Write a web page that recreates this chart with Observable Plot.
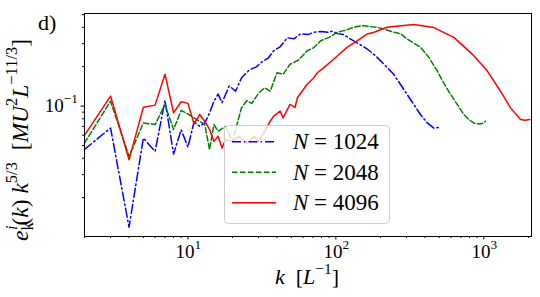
<!DOCTYPE html>
<html><head><meta charset="utf-8">
<script src="https://cdn.jsdelivr.net/npm/d3@7"></script>
<script src="https://cdn.jsdelivr.net/npm/@observablehq/plot@0.6"></script>
<style>body{margin:0;background:#fff} #chart{width:540px;height:297px}</style>
</head><body><div id="chart"></div><script>
// ---- data ----
const blueK = [2,3,4,5,6,7,8,9,10,11,12,13,14,15,16,17,19,21,23,26,29,31,35,38,42,47,52,58,65,71,80,88,95,102,113,125,143,163,185,211,246,273,303,336,373,415,459,505,511];
const blueV = [0.0467,0.0681,0.0119,0.057,0.0451,0.1106,0.043,0.0662,0.0487,0.0757,0.0702,0.0744,0.0888,0.109,0.1236,0.106,0.1426,0.1303,0.164,0.189,0.1995,0.214,0.234,0.265,0.284,0.333,0.327,0.358,0.352,0.367,0.371,0.366,0.374,0.358,0.352,0.326,0.299,0.273,0.243,0.209,0.175,0.147,0.123,0.103,0.0863,0.0744,0.068,0.069,0.070];

const greenK = [2,3,4,5,6,7,8,9,10,11,12,13,14,15,16,18,20,23,25,27,30,33,36,40,44,49,56,64,71,79,90,102,116,132,150,171,190,211,240,274,303,374,425,484,534,596,661,733,792,855,930,1000,1023];
const greenV = [0.0522,0.109,0.0413,0.0744,0.0723,0.103,0.0662,0.0927,0.0873,0.0813,0.0767,0.0723,0.0465,0.0723,0.0643,0.0702,0.0538,0.097,0.110,0.105,0.125,0.138,0.130,0.180,0.175,0.209,0.225,0.265,0.280,0.316,0.335,0.367,0.380,0.400,0.412,0.405,0.400,0.389,0.370,0.357,0.326,0.281,0.236,0.186,0.151,0.123,0.103,0.0863,0.079,0.0744,0.073,0.0744,0.0767];

const redK = [2,3,4,5,6,7,8,9,10,11,12,13,14,15,16,17,18,20,22,25,28,30,33,36,38,42,44,49,53,55,64,71,75,83,97,119,140,163,181,222,247,336,459,627,855,1054,1297,1515,1770,1900,2048];
const redV = [0.0598,0.1194,0.0389,0.0982,0.1018,0.1754,0.0888,0.108,0.105,0.0731,0.0863,0.0767,0.0665,0.0538,0.0588,0.0478,0.0557,0.0538,0.0588,0.052,0.0588,0.0538,0.0642,0.0767,0.0838,0.0916,0.0813,0.103,0.098,0.116,0.147,0.165,0.180,0.197,0.229,0.281,0.316,0.356,0.367,0.400,0.405,0.420,0.398,0.335,0.243,0.186,0.130,0.097,0.079,0.078,0.079];

const seriesNames = ["1024","2048","4096"];
const xMajor = [10,100,1000];
const xMinor = [2,3,4,5,6,7,8,9,20,30,40,50,60,70,80,90,200,300,400,500,600,700,800,900,2000];
const yMajor = [0.1];
const yMinor = [0.02,0.03,0.04,0.05,0.06,0.07,0.08,0.09,0.2,0.3,0.4,0.5];
const xTickExp = ["1","2","3"];
const yTickExp = ["\u22121"];

const FONT = "'Liberation Serif', 'DejaVu Serif', serif";
const toRows = (K,V) => K.map((k,i)=>({k, v:V[i]}));
const blue = toRows(blueK, blueV), green = toRows(greenK, greenV), red = toRows(redK, redV);

const styles = [
  {color:"blue", dash:"9,3,1.5,3"},
  {color:"green", dash:"5.5,2.5"},
  {color:"red", dash:null}
];

const plot = Plot.plot({
  width:540, height:297,
  marginLeft:84, marginRight:9, marginTop:13, marginBottom:61,
  style:{background:"white", fontFamily:FONT, overflow:"visible"},
  x:{type:"log", domain:[2,2100]},
  y:{type:"log", domain:[0.0101,0.51]},
  marks:[
    Plot.line(blue, {x:"k", y:"v", stroke:styles[0].color, strokeWidth:1.5, strokeDasharray:styles[0].dash}),
    Plot.line(green, {x:"k", y:"v", stroke:styles[1].color, strokeWidth:1.5, strokeDasharray:styles[1].dash}),
    Plot.line(red, {x:"k", y:"v", stroke:styles[2].color, strokeWidth:1.5}),
    Plot.axisX({ticks:xMajor, tickSize:3.5, tickFormat:()=>"", label:null, stroke:"black"}),
    Plot.axisX({ticks:xMinor, tickSize:2, tickFormat:()=>"", label:null, stroke:"black"}),
    Plot.axisY({ticks:yMajor, tickSize:3.5, tickFormat:()=>"", label:null, stroke:"black"}),
    Plot.axisY({ticks:yMinor, tickSize:2, tickFormat:()=>"", label:null, stroke:"black"}),
    Plot.frame({stroke:"black", strokeWidth:1})
  ]
});
document.getElementById("chart").appendChild(plot);

const svg = d3.select(plot);
const sx = plot.scale("x"), sy = plot.scale("y");

function rich(parent, parts, {x, y, size, anchor="start", transform=null}) {
  const t = parent.append("text").attr("x",x).attr("y",y)
    .attr("font-size",size).attr("text-anchor",anchor)
    .attr("font-family",FONT).attr("fill","black");
  if (transform) t.attr("transform",transform);
  let cur = 0;
  for (const p of parts) {
    const sh = (p.sh||0)*size;
    const ts = t.append("tspan").text(p.t).attr("dy", cur - sh).attr("font-size",(p.s||1)*size);
    if (p.dx) ts.attr("dx", p.dx*size);
    if (p.i) ts.attr("font-style","italic");
    cur = sh;
  }
  return t;
}

// x tick labels
xMajor.forEach((v,i)=>{
  rich(svg, [{t:"10"},{t:xTickExp[i], sh:0.45, s:0.7}], {x:sx.apply(v)+1, y:258, size:19, anchor:"middle"});
});
// y tick label
yMajor.forEach((v,i)=>{
  rich(svg, [{t:"10"},{t:yTickExp[i], sh:0.45, s:0.7}], {x:78, y:sy.apply(v)+6, size:19, anchor:"end"});
});

// panel tag
rich(svg, [{t:"d)"}], {x:38, y:30, size:22});

// x label
rich(svg, [{t:"k", i:true},{t:"  ["},{t:"L", i:true},{t:"\u22121", sh:0.45, s:0.7},{t:"]", sh:0}],
  {x:307, y:284, size:22, anchor:"middle"});

// y label (rotated)
rich(svg, [
  {t:"e", i:true},
  {t:"k", sh:-0.22, s:0.7},
  {t:"i", sh:0.45, s:0.7, i:true, dx:-0.33},
  {t:"(", sh:0},{t:"k", i:true},{t:")"},{t:" k", i:true},
  {t:"5/3", sh:0.45, s:0.7},
  {t:"  [", sh:0},{t:"MU", i:true},
  {t:"2", sh:0.45, s:0.7},
  {t:"L", sh:0, i:true},
  {t:"\u221211/3", sh:0.45, s:0.7},
  {t:"]", sh:0}
], {x:-140, y:28, size:23.5, anchor:"middle", transform:"rotate(-90)"});

// legend
const lg = svg.append("g");
lg.append("rect").attr("x",224.5).attr("y",125.5).attr("width",165).attr("height",98)
  .attr("rx",4).attr("fill","white").attr("fill-opacity",0.8).attr("stroke","#cccccc").attr("stroke-width",1);
const rowsY = [141.7, 172.3, 202.7];
seriesNames.forEach((n,i)=>{
  const ln = lg.append("line").attr("x1",232).attr("x2",276).attr("y1",rowsY[i]).attr("y2",rowsY[i])
    .attr("stroke",styles[i].color).attr("stroke-width",1.5);
  if (styles[i].dash) ln.attr("stroke-dasharray",styles[i].dash);
  rich(lg, [{t:"N", i:true},{t:" = "+n}], {x:293, y:rowsY[i]+7.5, size:23});
});
</script></body></html>
